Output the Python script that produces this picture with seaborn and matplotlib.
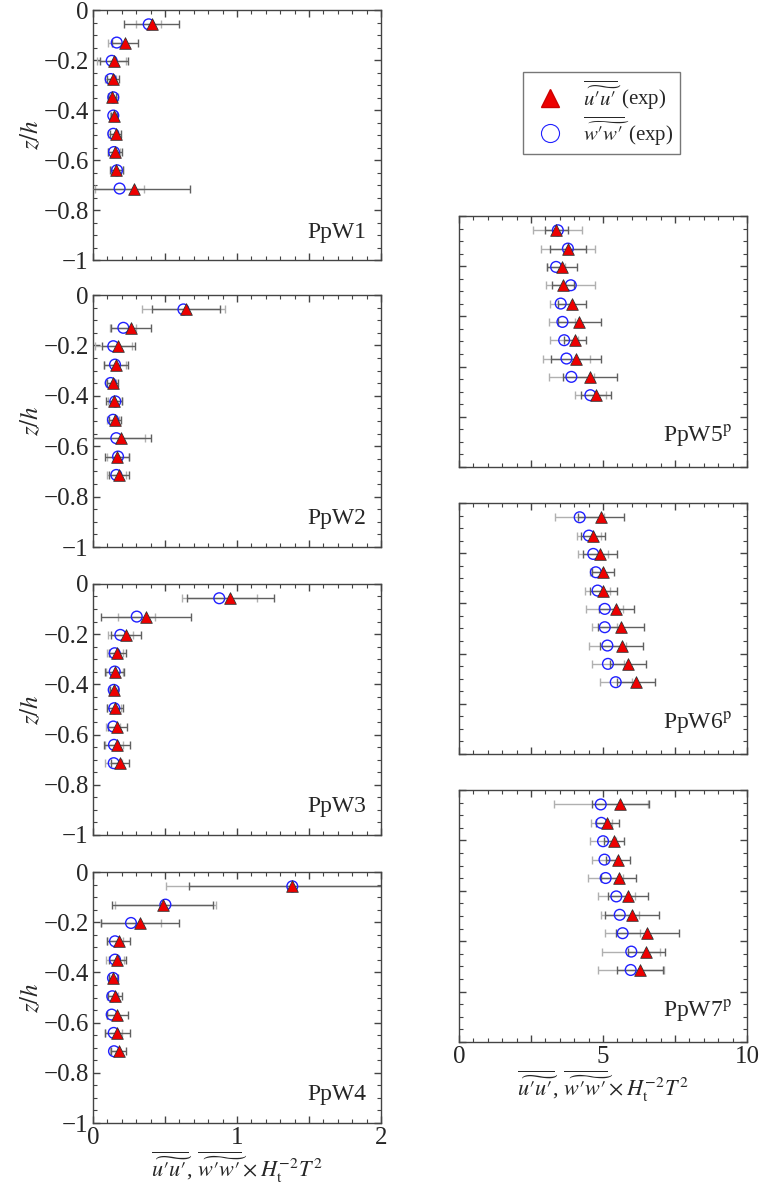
import pandas as pd
import seaborn as sns
import matplotlib.pyplot as plt
from matplotlib.lines import Line2D

# depth of the measuring points (same for all profiles)
z = [-0.057, -0.130, -0.203, -0.276, -0.349, -0.422, -0.495, -0.568, -0.641, -0.714]

panels = ['PpW1', 'PpW2', 'PpW3', 'PpW4',
          'PpW5$^{\\mathrm{p}}$', 'PpW6$^{\\mathrm{p}}$', 'PpW7$^{\\mathrm{p}}$']

# u'u' values and errors
uu = [
    [0.408, 0.222, 0.146, 0.139, 0.132, 0.144, 0.158, 0.155, 0.162, 0.287],
    [0.649, 0.264, 0.176, 0.160, 0.137, 0.148, 0.153, 0.192, 0.167, 0.178],
    [0.954, 0.369, 0.232, 0.169, 0.151, 0.146, 0.153, 0.169, 0.170, 0.188],
    [1.384, 0.484, 0.327, 0.178, 0.169, 0.141, 0.153, 0.169, 0.169, 0.178],
    [3.38, 3.78, 3.58, 3.61, 3.92, 4.18, 4.02, 4.06, 4.54, 4.77],
    [4.94, 4.66, 4.90, 5.01, 5.00, 5.46, 5.61, 5.65, 5.87, 6.13],
    [5.60, 5.15, 5.38, 5.51, 5.54, 5.87, 6.00, 6.54, 6.50, 6.27],
]
uu_err = [
    [0.19, 0.09, 0.10, 0.045, 0.03, 0.02, 0.04, 0.05, 0.045, 0.385],
    [0.236, 0.14, 0.115, 0.08, 0.04, 0.055, 0.045, 0.21, 0.08, 0.07],
    [0.30, 0.31, 0.105, 0.06, 0.065, 0.03, 0.055, 0.065, 0.09, 0.065],
    [0.72, 0.35, 0.27, 0.08, 0.06, 0.03, 0.05, 0.075, 0.087, 0.05],
    [0.40, 0.63, 0.52, 0.38, 0.50, 0.76, 0.38, 0.86, 0.93, 0.52],
    [0.80, 0.42, 0.58, 0.38, 0.47, 0.60, 0.80, 0.75, 0.62, 0.66],
    [1.00, 0.40, 0.35, 0.41, 0.60, 0.70, 0.94, 1.10, 0.64, 0.80],
]

# w'w' values and errors
ww = [
    [0.387, 0.165, 0.130, 0.123, 0.141, 0.141, 0.141, 0.146, 0.167, 0.185],
    [0.628, 0.211, 0.141, 0.153, 0.123, 0.155, 0.139, 0.162, 0.174, 0.162],
    [0.877, 0.304, 0.190, 0.151, 0.151, 0.144, 0.148, 0.141, 0.146, 0.144],
    [1.384, 0.503, 0.264, 0.153, 0.153, 0.139, 0.134, 0.130, 0.144, 0.146],
    [3.43, 3.78, 3.37, 3.88, 3.53, 3.59, 3.65, 3.73, 3.90, 4.56],
    [4.19, 4.51, 4.66, 4.75, 4.81, 5.06, 5.06, 5.15, 5.17, 5.44],
    [4.92, 4.94, 5.00, 5.05, 5.09, 5.46, 5.58, 5.68, 5.98, 5.96],
]
ww_err = [
    [0.085, 0.06, 0.10, 0.04, 0.03, 0.02, 0.035, 0.045, 0.04, 0.17],
    [0.29, 0.09, 0.13, 0.075, 0.035, 0.05, 0.04, 0.20, 0.075, 0.065],
    [0.26, 0.13, 0.085, 0.055, 0.06, 0.03, 0.05, 0.05, 0.06, 0.06],
    [0.88, 0.35, 0.21, 0.055, 0.06, 0.03, 0.04, 0.03, 0.06, 0.025],
    [0.85, 0.95, 0.30, 0.85, 0.37, 0.45, 0.48, 0.80, 0.77, 0.55],
    [0.85, 0.42, 0.52, 0.20, 0.42, 0.65, 0.44, 0.64, 0.57, 0.56],
    [1.64, 0.36, 0.44, 0.45, 0.62, 0.64, 0.66, 0.60, 1.00, 1.15],
]

sns.set_style("ticks")
plt.rcParams['font.family'] = ['Liberation Serif', 'DejaVu Serif']
plt.rcParams['mathtext.fontset'] = 'stix'
plt.rcParams['font.size'] = 17
plt.rcParams['axes.unicode_minus'] = True

fig = plt.figure(figsize=(7.62, 11.84), dpi=100)

# axes boxes (left, bottom, width, height) in figure fractions
boxes = [
    (0.122, 0.7804, 0.378, 0.2111),
    (0.122, 0.5380, 0.378, 0.2128),
    (0.122, 0.2948, 0.378, 0.2120),
    (0.122, 0.0515, 0.378, 0.2120),
    (0.6024, 0.6056, 0.378, 0.2120),
    (0.6024, 0.3632, 0.378, 0.2120),
    (0.6024, 0.1199, 0.378, 0.2128),
]

pr = '\u2032'
uu_tex = r'\overline{\widetilde{u' + pr + 'u' + pr + '}}'
ww_tex = r'\overline{\widetilde{w' + pr + 'w' + pr + '}}'
xlab = '$' + uu_tex + '$, $' + ww_tex + r'\times H_{\mathrm{t}}^{-2}T^{2}$'

for i, name in enumerate(panels):
    ax = fig.add_axes(boxes[i])
    right = i >= 4
    df = pd.DataFrame({'z': z, 'uu': uu[i], 'ww': ww[i]})

    ax.errorbar(ww[i], z, xerr=ww_err[i], fmt='none', ecolor='#b0b0b0',
                elinewidth=1.0, capsize=3, capthick=1.0, zorder=2)
    ax.errorbar(uu[i], z, xerr=uu_err[i], fmt='none', ecolor='#606060',
                elinewidth=1.0, capsize=3, capthick=1.0, zorder=3)
    sns.scatterplot(data=df, x='ww', y='z', ax=ax, marker='o', s=60,
                    facecolor='none', edgecolor='#2020ff', linewidth=1.0, zorder=4)
    sns.scatterplot(data=df, x='uu', y='z', ax=ax, marker='^', s=70,
                    color='#ee0000', edgecolor='#333333', linewidth=0.6, zorder=5)

    xmax = 10 if right else 2
    ax.set_xlim(0, xmax)
    ax.set_ylim(-1, 0)
    step = xmax / 4
    ax.set_xticks([0, step, 2 * step, 3 * step, xmax])
    ax.set_xticks([k * xmax / 20 for k in range(21)], minor=True)
    ax.set_yticks([0, -0.2, -0.4, -0.6, -0.8, -1])
    ax.set_yticks([-k * 0.05 for k in range(21)], minor=True)

    bottom = i in (3, 6)
    if bottom:
        ax.set_xticklabels(['0', '', f'{xmax // 2}', '', f'{xmax}'])
    else:
        ax.set_xticklabels([])
    ax.set_xlabel(xlab if bottom else '', fontsize=16, labelpad=0)

    if right:
        ax.set_yticklabels([])
        ax.set_ylabel('')
    else:
        ax.set_yticklabels(['0', '\u22120.2', '\u22120.4', '\u22120.6', '\u22120.8', '\u22121'])
        ax.set_ylabel('$z/h$', fontsize=18, labelpad=0)

    ax.tick_params(which='both', direction='in', top=True, right=True,
                   color='#444444', labelsize=18, pad=3)
    ax.tick_params(axis='x', which='major', pad=3)
    ax.tick_params(which='major', length=5, width=1)
    ax.tick_params(which='minor', length=3, width=0.8)
    for sp in ax.spines.values():
        sp.set_color('#444444')
        sp.set_linewidth(1.0)

    ax.text(0.95, 0.07, name, transform=ax.transAxes, ha='right', va='bottom',
            fontsize=17)

handles = [
    Line2D([], [], marker='^', linestyle='none', markersize=13,
           markerfacecolor='#ee0000', markeredgecolor='#cc0000'),
    Line2D([], [], marker='o', linestyle='none', markersize=13,
           markerfacecolor='none', markeredgecolor='#2020ff', markeredgewidth=0.8),
]
labels = ['$' + uu_tex + '$ (exp)', '$' + ww_tex + '$ (exp)']
fig.legend(handles, labels, loc='upper left', bbox_to_anchor=(0.686, 0.939),
           frameon=True, fancybox=False, edgecolor='#777777', framealpha=1,
           fontsize=15, handletextpad=0.6, borderpad=0.3, labelspacing=0.1,
           borderaxespad=0)

fig.savefig('out.png', dpi=100)
